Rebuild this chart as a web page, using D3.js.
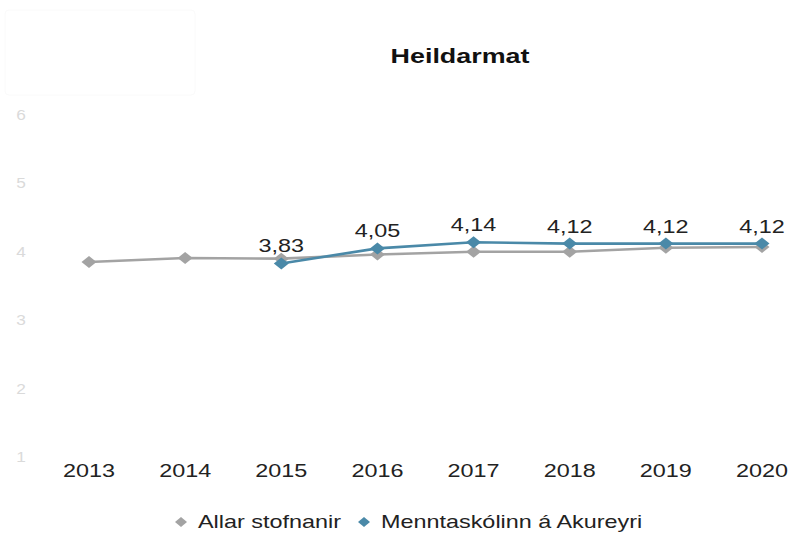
<!DOCTYPE html>
<html><head><meta charset="utf-8">
<script src="https://cdn.jsdelivr.net/npm/d3@7/dist/d3.min.js"></script>
<style>body{margin:0;background:#fff;font-family:"Liberation Sans",Arial,sans-serif;}</style>
</head><body>
<svg id="c" width="790" height="533"></svg>
<script>
const years = ["2013","2014","2015","2016","2017","2018","2019","2020"];
const allar = [3.85, 3.91, 3.90, 3.96, 4.00, 4.00, 4.06, 4.07];
const mta = [null, null, 3.83, 4.05, 4.14, 4.12, 4.12, 4.12];
const yTicks = [1,2,3,4,5,6];
const seriesNames = ["Allar stofnanir", "Menntaskólinn á Akureyri"];
const colors = ["#a3a3a3", "#4a89a8"];
const SX = 1.3; // horizontal stretch of text

const svg = d3.select("#c");
svg.append("rect").attr("x",5).attr("y",10).attr("width",190).attr("height",85)
  .attr("rx",4).attr("fill","none").attr("stroke","#fafafa");

const x = d3.scalePoint().domain(years).range([89, 762]);
const y = d3.scaleLinear().domain([1,6]).range([457, 115]);

function stext(g, xx, yy, str, size, opts = {}) {
  const t = g.append("text")
    .attr("transform", `translate(${xx},${yy}) scale(${opts.sx || SX},1)`)
    .attr("font-size", size).attr("fill", opts.fill || "#1a1a1a")
    .attr("text-anchor", opts.anchor || "start")
    .text(str);
  if (opts.bold) t.attr("font-weight", "bold");
  return t;
}

stext(svg, 460, 63, "Heildarmat", 21, {anchor: "middle", bold: true, sx: 1.28, fill: "#111"});

// y axis labels
const yAxis = svg.append("g");
yTicks.forEach(d => stext(yAxis, 21, y(d) + 5, d3.format("d")(d), 15, {anchor: "middle", fill: "#dadada", sx: 1.15}));

// x axis labels
years.forEach(yr => stext(svg, x(yr), 477, yr, 18, {anchor: "middle", fill: "#222"}));

const diamondPath = (w, h) => `M0,${-h/2}L${w/2},0L0,${h/2}L${-w/2},0Z`;

[allar, mta].forEach((vals, i) => {
  const pts = years.map((yr, j) => ({yr, v: vals[j]})).filter(d => d.v != null);
  svg.append("path").datum(pts)
    .attr("d", d3.line().x(d => x(d.yr)).y(d => y(d.v)))
    .attr("fill","none").attr("stroke",colors[i]).attr("stroke-width",2.6);
  svg.selectAll(null).data(pts).enter().append("path")
    .attr("d", diamondPath(15, 12)).attr("transform", d => `translate(${x(d.yr)},${y(d.v)})`)
    .attr("fill", colors[i]);
  if (i === 1) {
    pts.forEach(d => stext(svg, x(d.yr), y(d.v) - 11, d3.format(".2f")(d.v).replace(".", ","), 18, {anchor: "middle", fill: "#222"}));
  }
});

const legX = [181, 364];
seriesNames.forEach((n, i) => {
  svg.append("path").attr("d", diamondPath(12, 10))
    .attr("transform", `translate(${legX[i]},522)`).attr("fill", colors[i]);
  stext(svg, legX[i] + 17, 528, n, 18, {fill: "#222"});
});
</script>
</body></html>
